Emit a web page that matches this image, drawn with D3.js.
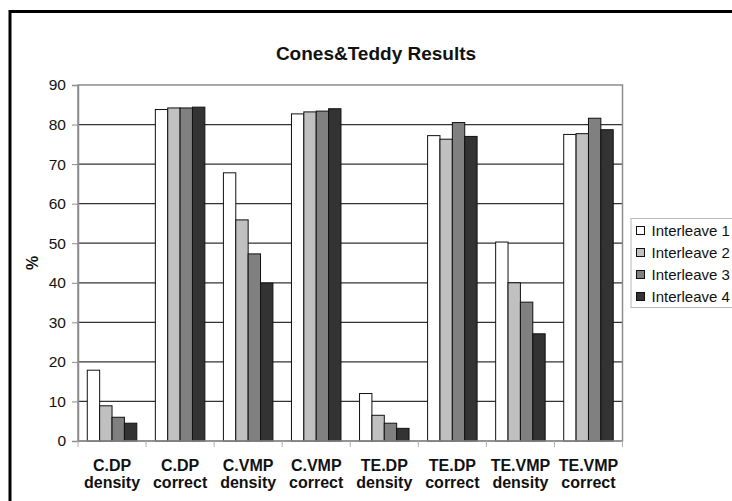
<!DOCTYPE html>
<html>
<head>
<meta charset="utf-8">
<script src="https://cdn.jsdelivr.net/npm/d3@7"></script>
<style>
  html, body { margin: 0; padding: 0; background: #fff; }
  svg { display: block; font-family: "Liberation Sans", Arial, sans-serif; }
</style>
</head>
<body>
<svg id="chart" width="732" height="501"></svg>
<script>
// Category labels (two lines each)
const categories = [
  ["C.DP", "density"], ["C.DP", "correct"],
  ["C.VMP", "density"], ["C.VMP", "correct"],
  ["TE.DP", "density"], ["TE.DP", "correct"],
  ["TE.VMP", "density"], ["TE.VMP", "correct"]
];
const seriesNames = ["Interleave 1", "Interleave 2", "Interleave 3", "Interleave 4"];
const interleave1 = [17.9, 83.8, 67.8, 82.7, 12.0, 77.2, 50.3, 77.5];
const interleave2 = [8.9, 84.2, 55.9, 83.2, 6.5, 76.3, 40.0, 77.7];
const interleave3 = [6.0, 84.2, 47.3, 83.4, 4.5, 80.5, 35.1, 81.6];
const interleave4 = [4.5, 84.4, 39.9, 84.0, 3.2, 77.0, 27.1, 78.7];
const yTicks = [0, 10, 20, 30, 40, 50, 60, 70, 80, 90];

const series = [interleave1, interleave2, interleave3, interleave4];
const colors = ["#ffffff", "#c0c0c0", "#808080", "#333333"];

const svg = d3.select("#chart");

// Outer chart frame
svg.append("rect")
  .attr("x", 10).attr("y", 11.5)
  .attr("width", 740).attr("height", 510)
  .attr("fill", "#fff").attr("stroke", "#000").attr("stroke-width", 3);

const plot = { left: 78, top: 85, right: 622.5, bottom: 441 };

const x0 = d3.scaleBand()
  .domain(d3.range(categories.length))
  .range([plot.left, plot.right])
  .paddingInner(0).paddingOuter(0);

const x1 = d3.scaleBand()
  .domain(d3.range(series.length))
  .range([0, x0.bandwidth()])
  .paddingOuter(0.75).paddingInner(0);

const y = d3.scaleLinear().domain([0, 90]).range([plot.bottom, plot.top]);

// Gridlines
svg.append("g")
  .selectAll("line")
  .data(yTicks.filter(t => t > 0 && t < 90))
  .join("line")
  .attr("x1", plot.left).attr("x2", plot.right)
  .attr("y1", d => y(d)).attr("y2", d => y(d))
  .attr("stroke", "#333").attr("stroke-width", 1.2);

// Plot area border
svg.append("rect")
  .attr("x", plot.left).attr("y", plot.top)
  .attr("width", plot.right - plot.left).attr("height", plot.bottom - plot.top)
  .attr("fill", "none").attr("stroke", "#8c8c8c").attr("stroke-width", 1.5);

// Bars
const groups = svg.append("g")
  .selectAll("g")
  .data(categories.map((c, i) => i))
  .join("g")
  .attr("transform", i => `translate(${x0(i)},0)`);

groups.selectAll("rect")
  .data(i => series.map((s, k) => ({ k, v: s[i] })))
  .join("rect")
  .attr("x", d => x1(d.k))
  .attr("width", x1.bandwidth())
  .attr("y", d => y(d.v))
  .attr("height", d => y(0) - y(d.v))
  .attr("fill", d => colors[d.k])
  .attr("stroke", "#111").attr("stroke-width", 1);

// Y axis
const yAxis = d3.axisLeft(y).tickValues(yTicks).tickSize(6).tickPadding(6)
  .tickFormat(d3.format("d"));
const yg = svg.append("g").attr("transform", `translate(${plot.left},0)`).call(yAxis);
yg.select(".domain").attr("stroke", "#8c8c8c").attr("stroke-width", 1.5);
yg.selectAll(".tick line").attr("stroke", "#8c8c8c");
yg.selectAll(".tick text")
  .attr("font-size", 15.5).attr("fill", "#111")
  .attr("font-family", "Liberation Sans, Arial, sans-serif");

// X axis: category separators below the axis line
const xg = svg.append("g").attr("transform", `translate(0,${plot.bottom})`);
xg.append("line")
  .attr("x1", plot.left).attr("x2", plot.right)
  .attr("stroke", "#8c8c8c").attr("stroke-width", 1.5);
xg.selectAll("line.sep")
  .data(d3.range(categories.length + 1))
  .join("line").attr("class", "sep")
  .attr("x1", i => i < categories.length ? x0(i) : plot.right)
  .attr("x2", i => i < categories.length ? x0(i) : plot.right)
  .attr("y1", 0).attr("y2", 6)
  .attr("stroke", "#b0b0b0").attr("stroke-width", 1);

const xLabels = xg.selectAll("text.cat")
  .data(categories)
  .join("text").attr("class", "cat")
  .attr("text-anchor", "middle")
  .attr("font-size", 16).attr("font-weight", "bold").attr("fill", "#111")
  .attr("x", (d, i) => x0(i) + x0.bandwidth() / 2);
xLabels.append("tspan").attr("y", 30).attr("x", (d, i) => x0(i) + x0.bandwidth() / 2).text(d => d[0]);
xLabels.append("tspan").attr("y", 47).attr("x", (d, i) => x0(i) + x0.bandwidth() / 2).text(d => d[1]);

// Y axis title
svg.append("text")
  .attr("transform", "translate(38,263) rotate(-90)")
  .attr("text-anchor", "middle")
  .attr("font-size", 16).attr("font-weight", "bold").attr("fill", "#111")
  .text("%");

// Chart title
svg.append("text")
  .attr("x", 376).attr("y", 60)
  .attr("text-anchor", "middle")
  .attr("font-size", 19).attr("font-weight", "bold").attr("fill", "#111")
  .text("Cones&Teddy Results");

// Legend
const legend = svg.append("g");
legend.append("rect")
  .attr("x", 631).attr("y", 218.5)
  .attr("width", 130).attr("height", 89)
  .attr("fill", "#fff").attr("stroke", "#b8b8b8").attr("stroke-width", 1);
const items = legend.selectAll("g.item")
  .data(seriesNames)
  .join("g").attr("class", "item")
  .attr("transform", (d, i) => `translate(636.5,${226.5 + i * 22})`);
items.append("rect")
  .attr("width", 8).attr("height", 8)
  .attr("fill", (d, i) => colors[i]).attr("stroke", "#111").attr("stroke-width", 1);
items.append("text")
  .attr("x", 15).attr("y", 9.5)
  .attr("font-size", 15).attr("fill", "#111")
  .text(d => d);
</script>
</body>
</html>
